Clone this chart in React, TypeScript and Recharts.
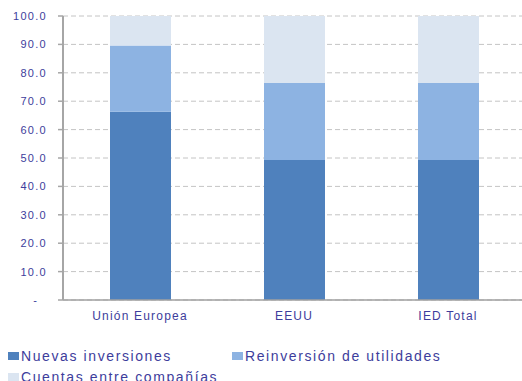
import React from "react";
import { BarChart, Bar, XAxis, YAxis, CartesianGrid } from "recharts";

const categories = ["Unión Europea", "EEUU", "IED Total"];
const nuevasInversiones = [66.3, 49.3, 49.3];
const reinversionUtilidades = [23.3, 27.1, 27.1];
const cuentasCompanias = [10.4, 23.6, 23.6];
const yTicks = [0, 10, 20, 30, 40, 50, 60, 70, 80, 90, 100];
const seriesNames = ["Nuevas inversiones", "Reinversión de utilidades", "Cuentas entre compañías"];
const colors = ["#4F81BD", "#8DB3E2", "#DBE5F1"];

const data = categories.map((c, i) => ({
  name: c,
  a: nuevasInversiones[i],
  b: reinversionUtilidades[i],
  c: cuentasCompanias[i],
}));

const textColor = "#3d3d9c";
const font = "'Liberation Sans', Arial, sans-serif";

const LegendBlock = () => (
  <div
    style={{
      position: "absolute",
      left: 0,
      top: 345,
      display: "flex",
      flexWrap: "wrap",
      width: 522,
      fontFamily: font,
      fontSize: 14,
      letterSpacing: 1.6,
      color: textColor,
    }}
  >
    {seriesNames.map((n, i) => (
      <div
        key={n}
        style={{
          boxSizing: "border-box",
          width: 224,
          height: 21,
          display: "flex",
          alignItems: "center",
          paddingLeft: 8,
          whiteSpace: "nowrap",
        }}
      >
        <span style={{ display: "inline-block", width: 11, height: 8, background: colors[i], marginRight: 2 }} />
        <span>{n}</span>
      </div>
    ))}
  </div>
);

export default function App() {
  return (
    <div style={{ position: "fixed", left: 0, top: 0, width: 522, height: 381, overflow: "hidden", background: "#fff" }}>
      <BarChart
        width={525}
        height={381}
        data={data}
        margin={{ top: 16, right: 0, bottom: 60, left: 0 }}
        barSize={61}
      >
        <CartesianGrid vertical={false} stroke="#c4c4c4" strokeDasharray="5 3" />
        <XAxis
          xAxisId="cat"
          dataKey="name"
          tickLine={false}
          axisLine={{ stroke: "#a0a0a0", strokeWidth: 1.5 }}
          tick={{ fill: textColor, fontSize: 12, fontFamily: font, letterSpacing: 1.2 }}
          tickSize={5}
          tickMargin={6}
          height={21}
        />
        <XAxis
          xAxisId="ticks"
          type="number"
          domain={[0, 3]}
          ticks={[0, 1, 2, 3]}
          axisLine={false}
          tickLine={{ stroke: "#a0a0a0", strokeWidth: 1.5 }}
          tickSize={5}
          tick={false}
          height={0}
          orientation="bottom"
        />
        <YAxis
          width={63}
          domain={[0, 100]}
          ticks={yTicks}
          interval={0}
          axisLine={{ stroke: "#a6a6a6", strokeWidth: 2 }}
          tickLine={{ stroke: "#a6a6a6", strokeWidth: 1.5 }}
          tickSize={5}
          tickMargin={11}
          tick={{ fill: textColor, fontSize: 11, fontFamily: font, letterSpacing: 1.3 }}
          tickFormatter={(v: number) => (v === 0 ? "-\u00a0\u00a0" : v.toFixed(1))}
        />
        <Bar xAxisId="cat" dataKey="a" stackId="s" fill={colors[0]} isAnimationActive={false} />
        <Bar xAxisId="cat" dataKey="b" stackId="s" fill={colors[1]} isAnimationActive={false} />
        <Bar xAxisId="cat" dataKey="c" stackId="s" fill={colors[2]} isAnimationActive={false} />
      </BarChart>
      <LegendBlock />
    </div>
  );
}
